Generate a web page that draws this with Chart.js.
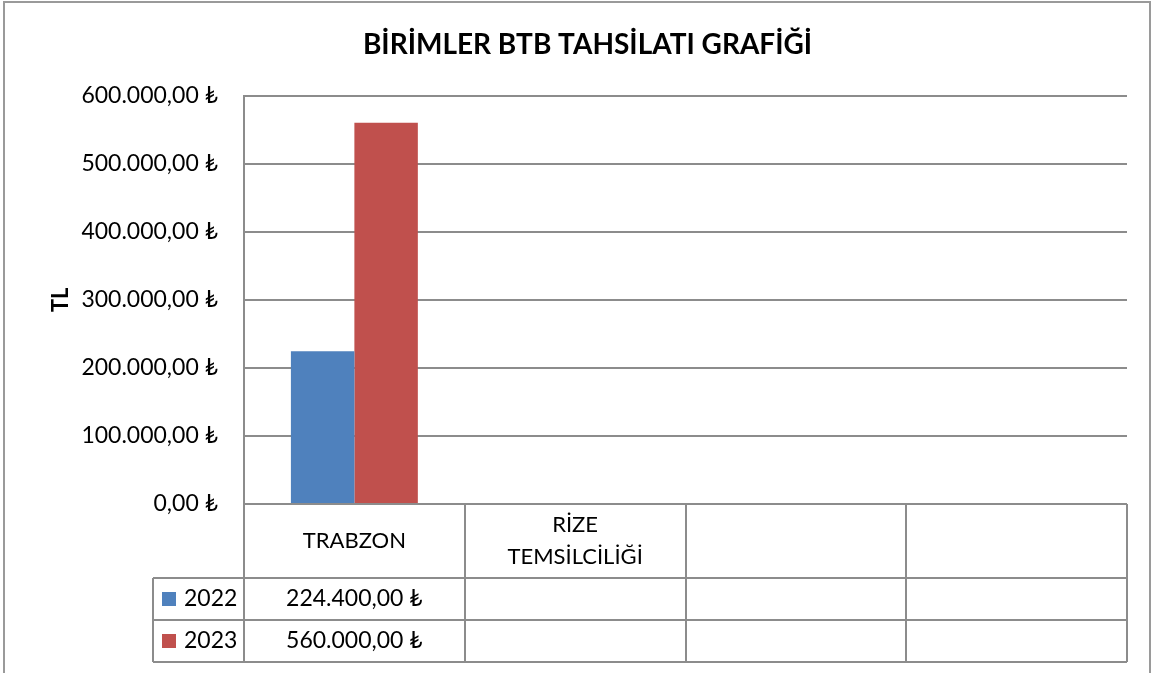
<!DOCTYPE html>
<html>
<head>
<meta charset="utf-8">
<script src="https://cdn.jsdelivr.net/npm/chart.js@4"></script>
<style>
  body { margin: 0; background: #fff; }
  #wrap { width: 1153px; height: 673px; }
</style>
</head>
<body>
<div id="wrap"><canvas id="btbChart" width="1153" height="673"></canvas></div>
<script>
const categories = ["TRABZON", ["RİZE", "TEMSİLCİLİĞİ"], "", ""];
const seriesNames = ["2022", "2023"];
const values2022 = [224400, null, null, null];
const values2023 = [560000, null, null, null];
const yTicks = [0, 100000, 200000, 300000, 400000, 500000, 600000];

const FONT = "Lato, 'DejaVu Sans', sans-serif";
const LINE = "#8c8c8c";
const colors = ["#4f81bd", "#c0504d"];

function formatTL(value) {
  const parts = Number(value).toFixed(2).split(".");
  const intPart = parts[0].replace(/\B(?=(\d{3})+(?!\d))/g, ".");
  return intPart + "," + parts[1] + " ₺";
}

// draws outer frame of the chart object
const framePlugin = {
  id: "frame",
  beforeDraw(chart) {
    const ctx = chart.ctx;
    ctx.save();
    ctx.fillStyle = "#fff";
    ctx.fillRect(0, 0, chart.width, chart.height);
    ctx.strokeStyle = "#9a9a9a";
    ctx.lineWidth = 2;
    ctx.strokeRect(4, 2, 1146, 720);
    ctx.restore();
  },
};

// data table under the plot, like Excel's "data table" option
const dataTablePlugin = {
  id: "dataTable",
  afterDraw(chart) {
    const ctx = chart.ctx;
    const xScale = chart.scales.x;
    const area = chart.chartArea;
    const half = (xScale.getPixelForTick(1) - xScale.getPixelForTick(0)) / 2;
    const top = area.bottom;
    const headerBottom = top + 74;
    const rowH = 42;
    const tableBottom = headerBottom + rowH * 2;
    const legendLeft = 153;
    const series = [values2022, values2023];

    ctx.save();
    ctx.strokeStyle = LINE;
    ctx.lineWidth = 2;

    // vertical cell lines
    for (let i = 0; i <= categories.length; i++) {
      const x = Math.round(area.left + i * half * 2);
      ctx.beginPath();
      ctx.moveTo(x, top);
      ctx.lineTo(x, tableBottom);
      ctx.stroke();
    }
    // horizontal lines
    [headerBottom, headerBottom + rowH, tableBottom].forEach((y) => {
      ctx.beginPath();
      ctx.moveTo(legendLeft, y);
      ctx.lineTo(area.right, y);
      ctx.stroke();
    });
    ctx.beginPath();
    ctx.moveTo(legendLeft, headerBottom);
    ctx.lineTo(legendLeft, tableBottom);
    ctx.stroke();

    ctx.fillStyle = "#000";
    ctx.font = "22px " + FONT;
    ctx.textAlign = "center";
    ctx.textBaseline = "middle";

    // header labels
    categories.forEach((label, i) => {
      const cx = xScale.getPixelForTick(i);
      const lines = Array.isArray(label) ? label : [label];
      const midY = (top + headerBottom) / 2;
      lines.forEach((line, j) => {
        const y = midY + (j - (lines.length - 1) / 2) * 32;
        ctx.fillText(line, cx, y);
      });
    });

    // series rows
    ctx.font = "23px " + FONT;
    series.forEach((vals, r) => {
      const cy = headerBottom + rowH * r + rowH / 2;
      ctx.fillStyle = colors[r];
      ctx.fillRect(legendLeft + 9, cy - 7, 14, 14);
      ctx.fillStyle = "#000";
      ctx.textAlign = "left";
      ctx.fillText(seriesNames[r], legendLeft + 31, cy);
      ctx.textAlign = "center";
      vals.forEach((v, i) => {
        if (v !== null) {
          ctx.fillText(formatTL(v), xScale.getPixelForTick(i), cy);
        }
      });
    });
    ctx.restore();
  },
};

new Chart(document.getElementById("btbChart"), {
  type: "bar",
  data: {
    labels: categories,
    datasets: [
      {
        label: seriesNames[0],
        data: values2022,
        backgroundColor: colors[0],
      },
      {
        label: seriesNames[1],
        data: values2023,
        backgroundColor: colors[1],
      },
    ],
  },
  options: {
    responsive: false,
    animation: false,
    datasets: {
      bar: {
        barPercentage: 1,
        categoryPercentage: 0.575,
      },
    },
    layout: {
      padding: { left: 48, right: 26, top: 0, bottom: 169 },
    },
    plugins: {
      legend: { display: false },
      tooltip: { enabled: false },
      title: {
        display: true,
        text: "BİRİMLER BTB TAHSİLATI GRAFİĞİ",
        color: "#000",
        font: { family: FONT, size: 28, weight: "bold" },
        padding: { top: 28, bottom: 34 },
      },
    },
    scales: {
      x: {
        grid: { display: false },
        border: { display: false },
        ticks: { display: false },
        afterFit(scale) {
          scale.height = 0;
        },
      },
      y: {
        min: 0,
        max: 600000,
        afterBuildTicks(scale) {
          scale.ticks = yTicks.map((v) => ({ value: v }));
        },
        afterFit(scale) {
          scale.width = 196;
        },
        grid: {
          color: LINE,
          lineWidth: 2,
          drawTicks: false,
        },
        border: { display: true, color: LINE, width: 2 },
        ticks: {
          padding: 26,
          color: "#000",
          font: { family: FONT, size: 23 },
          callback: (v) => formatTL(v),
        },
        title: {
          display: true,
          text: "TL",
          color: "#000",
          font: { family: FONT, size: 22, weight: "bold" },
          padding: { top: 0, bottom: 0 },
        },
      },
    },
  },
  plugins: [framePlugin, dataTablePlugin],
});
</script>
</body>
</html>
